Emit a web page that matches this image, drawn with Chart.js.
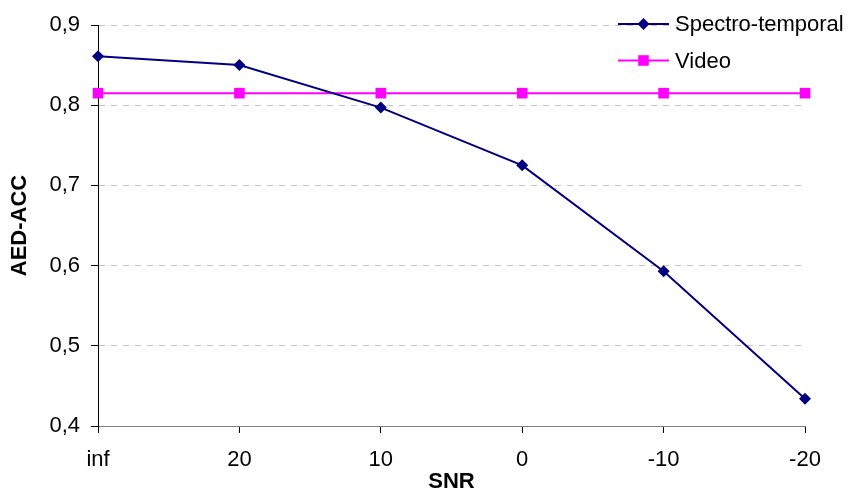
<!DOCTYPE html>
<html>
<head>
<meta charset="utf-8">
<title>AED-ACC vs SNR</title>
<script src="https://cdn.jsdelivr.net/npm/chart.js@4"></script>
<style>
  html, body { margin: 0; padding: 0; background: #ffffff; }
  #wrap { width: 849px; height: 491px; }
</style>
</head>
<body>
<div id="wrap"><canvas id="chart" width="849" height="491"></canvas></div>
<script>
// SNR conditions along the category axis
const snrLabels = ['inf', '20', '10', '0', '-10', '-20'];

// accuracy per condition
const spectroTemporal = [0.861, 0.850, 0.797, 0.725, 0.593, 0.434];
const video = [0.815, 0.815, 0.815, 0.815, 0.815, 0.815];

// value axis range and tick spacing
const yMin = 0.4;
const yMax = 0.9;
const yStep = 0.1;

const FONT = "'Liberation Sans', Arial, Helvetica, sans-serif";
Chart.defaults.font.family = FONT;
Chart.defaults.color = '#000000';

// legend drawn in the upper right corner, over the plot
const cornerLegend = {
  id: 'cornerLegend',
  afterDraw(chart) {
    const ctx = chart.ctx;
    const rows = [24, 60.5];
    ctx.save();
    chart.data.datasets.forEach((ds, i) => {
      const y = rows[i];
      ctx.strokeStyle = ds.borderColor;
      ctx.lineWidth = ds.borderWidth;
      ctx.beginPath();
      ctx.moveTo(618, y);
      ctx.lineTo(669, y);
      ctx.stroke();
      ctx.fillStyle = ds.backgroundColor;
      Chart.helpers.drawPoint(ctx, {
        pointStyle: ds.pointStyle,
        radius: ds.pointRadius,
        rotation: 0,
        borderWidth: 0
      }, 643.5, y);
      ctx.fillStyle = '#000000';
      ctx.font = '22px ' + FONT;
      ctx.textAlign = 'left';
      ctx.textBaseline = 'middle';
      ctx.fillText(ds.label, 675, y + 1);
    });
    ctx.restore();
  }
};

new Chart(document.getElementById('chart'), {
  type: 'line',
  data: {
    labels: snrLabels,
    datasets: [
      {
        label: 'Spectro-temporal',
        data: spectroTemporal,
        borderColor: '#000080',
        backgroundColor: '#000080',
        borderWidth: 2,
        pointStyle: 'rectRot',
        pointRadius: 6,
        pointBorderWidth: 0,
        tension: 0,
        clip: false
      },
      {
        label: 'Video',
        data: video,
        borderColor: '#FF00FF',
        backgroundColor: '#FF00FF',
        borderWidth: 2,
        pointStyle: 'rect',
        pointRadius: 7.5,
        pointBorderWidth: 0,
        tension: 0,
        clip: false
      }
    ]
  },
  options: {
    responsive: false,
    animation: false,
    devicePixelRatio: 1,
    layout: { padding: { left: 0, top: 25, right: 44, bottom: 0 } },
    plugins: {
      legend: { display: false },
      tooltip: { enabled: false }
    },
    scales: {
      x: {
        type: 'category',
        offset: false,
        afterFit(scale) { scale.height = 65; },
        border: { display: true, color: '#808080', width: 1 },
        grid: {
          drawOnChartArea: false,
          drawTicks: true,
          tickLength: 7,
          tickColor: '#000000',
          tickWidth: 1
        },
        ticks: {
          padding: 14,
          maxRotation: 0,
          font: { size: 22 },
          color: '#000000'
        },
        title: {
          display: true,
          text: 'SNR',
          font: { size: 22, weight: 'bold', lineHeight: 0.85 },
          padding: { top: 0, bottom: 0 },
          color: '#000000'
        }
      },
      y: {
        min: yMin,
        max: yMax,
        afterFit(scale) { scale.width = 98; },
        border: { display: true, color: '#000000', width: 1, dash: [6, 6] },
        grid: {
          color: (c) => (c.tick && Math.abs(c.tick.value - yMin) < 1e-9) ? 'rgba(0,0,0,0)' : '#c4c4c4',
          lineWidth: 1,
          drawTicks: true,
          tickLength: 7,
          tickColor: '#000000',
          tickBorderDash: [],
          tickWidth: 1
        },
        ticks: {
          stepSize: yStep,
          padding: 11,
          font: { size: 22 },
          color: '#000000',
          callback: (v) => v.toFixed(1).replace('.', ',')
        },
        title: {
          display: true,
          text: 'AED-ACC',
          font: { size: 22, weight: 'bold', lineHeight: 1 },
          padding: { top: 9, bottom: 0 },
          color: '#000000'
        }
      }
    }
  },
  plugins: [cornerLegend]
});
</script>
</body>
</html>
